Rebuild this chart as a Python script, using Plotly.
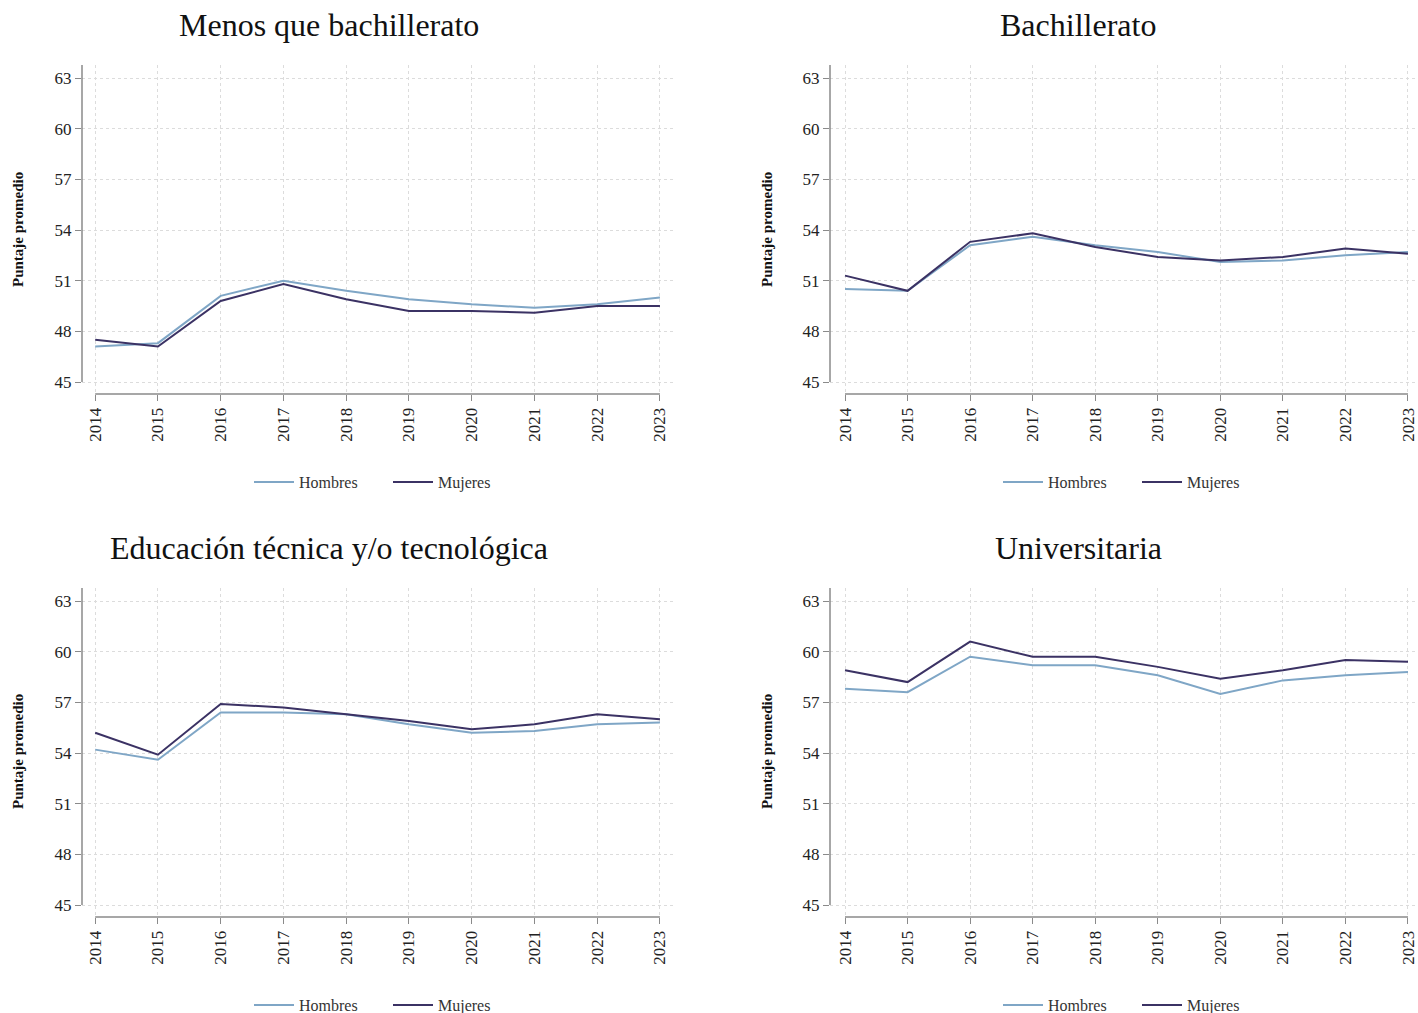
import plotly.graph_objects as go

# Puntaje promedio por nivel educativo y sexo, 2014-2023
years = [2014, 2015, 2016, 2017, 2018, 2019, 2020, 2021, 2022, 2023]

panel_titles = [
    "Menos que bachillerato",
    "Bachillerato",
    "Educación técnica y/o tecnológica",
    "Universitaria",
]

hombres_menos_bach = [47.1, 47.3, 50.1, 51.0, 50.4, 49.9, 49.6, 49.4, 49.6, 50.0]
mujeres_menos_bach = [47.5, 47.1, 49.8, 50.8, 49.9, 49.2, 49.2, 49.1, 49.5, 49.5]

hombres_bach = [50.5, 50.4, 53.1, 53.6, 53.1, 52.7, 52.1, 52.2, 52.5, 52.7]
mujeres_bach = [51.3, 50.4, 53.3, 53.8, 53.0, 52.4, 52.2, 52.4, 52.9, 52.6]

hombres_tecnica = [54.2, 53.6, 56.4, 56.4, 56.3, 55.7, 55.2, 55.3, 55.7, 55.8]
mujeres_tecnica = [55.2, 53.9, 56.9, 56.7, 56.3, 55.9, 55.4, 55.7, 56.3, 56.0]

hombres_univ = [57.8, 57.6, 59.7, 59.2, 59.2, 58.6, 57.5, 58.3, 58.6, 58.8]
mujeres_univ = [58.9, 58.2, 60.6, 59.7, 59.7, 59.1, 58.4, 58.9, 59.5, 59.4]

y_ticks = [45, 48, 51, 54, 57, 60, 63]

hombres_series = [hombres_menos_bach, hombres_bach, hombres_tecnica, hombres_univ]
mujeres_series = [mujeres_menos_bach, mujeres_bach, mujeres_tecnica, mujeres_univ]

W, H = 1418, 1013
FONT = "Liberation Serif"
C_HOMBRES = "#7fa6c6"
C_MUJERES = "#3b3264"
AXIS_GREY = "#8a8a8a"
GRID = "#dcdcdc"


def px(x):
    return x / W


def py(y):
    return 1 - y / H


# panel geometry in pixels: (left, right, top, bottom)
panels = [
    (82, 675, 65, 394),
    (830, 1418, 65, 394),
    (82, 675, 588, 917),
    (830, 1418, 588, 917),
]
x_ranges = [
    [2013.79, 2023.24],
    [2013.76, 2023.16],
    [2013.79, 2023.24],
    [2013.76, 2023.16],
]
y_range = [44.29, 63.77]
title_centers = [(329, 25), (1078, 25), (329, 548), (1078, 548)]
legend_pos = [(249, 482), (998, 482), (249, 1005), (998, 1005)]
ylabel_pos = [(18, 230), (767, 230), (18, 752), (767, 752)]

fig = go.Figure()
layout = dict(
    width=W,
    height=H,
    margin=dict(l=0, r=0, t=0, b=0, autoexpand=False),
    paper_bgcolor="white",
    plot_bgcolor="white",
    font=dict(family=FONT, color="#222222"),
    annotations=[],
    shapes=[],
)

for i in range(4):
    n = "" if i == 0 else str(i + 1)
    xa, ya = "x" + n, "y" + n
    leg = "legend" if i == 0 else "legend" + str(i + 1)
    left, right, top, bottom = panels[i]

    fig.add_trace(go.Scatter(
        x=years, y=hombres_series[i], mode="lines", name="Hombres",
        line=dict(color=C_HOMBRES, width=2), xaxis=xa, yaxis=ya, legend=leg,
    ))
    fig.add_trace(go.Scatter(
        x=years, y=mujeres_series[i], mode="lines", name="Mujeres",
        line=dict(color=C_MUJERES, width=2), xaxis=xa, yaxis=ya, legend=leg,
    ))

    layout["xaxis" + n] = dict(
        domain=[px(left), px(right)],
        anchor=ya,
        range=x_ranges[i],
        tickmode="array",
        tickvals=years,
        ticktext=[str(v) for v in years],
        tickangle=-90,
        ticks="outside",
        ticklen=6,
        tickcolor=AXIS_GREY,
        tickfont=dict(family=FONT, size=17, color="#222222"),
        showgrid=True,
        gridcolor=GRID,
        griddash="dot",
        gridwidth=1,
        zeroline=False,
        showline=False,
        fixedrange=True,
    )
    layout["yaxis" + n] = dict(
        domain=[py(bottom), py(top)],
        anchor=xa,
        range=y_range,
        tickmode="array",
        tickvals=y_ticks,
        ticks="outside",
        ticklen=6,
        tickcolor=AXIS_GREY,
        tickfont=dict(family=FONT, size=17, color="#222222"),
        showgrid=True,
        gridcolor=GRID,
        griddash="dot",
        gridwidth=1,
        zeroline=False,
        showline=False,
        fixedrange=True,
    )

    # detached axis lines
    layout["shapes"].append(dict(
        type="line", xref=xa, yref=ya + " domain",
        x0=years[0], x1=years[-1], y0=0, y1=0,
        line=dict(color=AXIS_GREY, width=1.5),
    ))
    layout["shapes"].append(dict(
        type="line", xref=xa + " domain", yref=ya,
        x0=0, x1=0, y0=y_ticks[0], y1=y_range[1],
        line=dict(color=AXIS_GREY, width=1.5),
    ))

    tx, ty = title_centers[i]
    layout["annotations"].append(dict(
        text=panel_titles[i], xref="paper", yref="paper",
        x=px(tx), y=py(ty), xanchor="center", yanchor="middle",
        showarrow=False, font=dict(family=FONT, size=32, color="#111111"),
    ))
    lx, lyp = ylabel_pos[i]
    layout["annotations"].append(dict(
        text="<b>Puntaje promedio</b>", xref="paper", yref="paper",
        x=px(lx), y=py(lyp), xanchor="center", yanchor="middle",
        textangle=-90, showarrow=False,
        font=dict(family=FONT, size=15, color="#111111"),
    ))

    gx, gy = legend_pos[i]
    layout[leg] = dict(
        orientation="h",
        x=px(gx), y=py(gy), xanchor="left", yanchor="middle",
        font=dict(family=FONT, size=16, color="#333333"),
        bgcolor="rgba(0,0,0,0)",
        entrywidth=84,
        entrywidthmode="pixels",
        itemwidth=40,
    )

fig.update_layout(**layout)
fig.write_html("out.html")
